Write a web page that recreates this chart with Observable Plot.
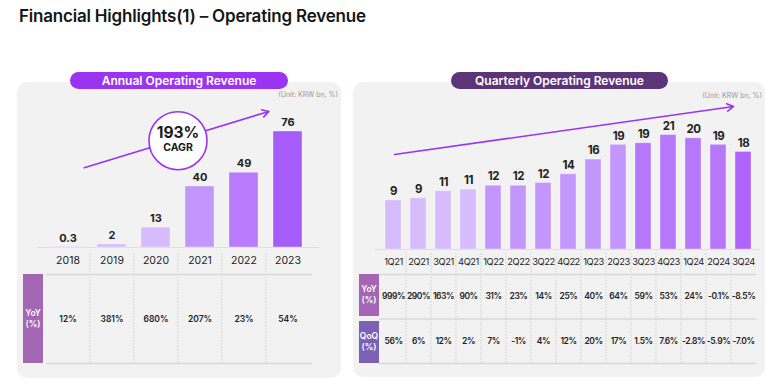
<!DOCTYPE html>
<html><head><meta charset="utf-8">
<script src="https://cdn.jsdelivr.net/npm/d3@7"></script>
<script src="https://cdn.jsdelivr.net/npm/@observablehq/plot@0.6"></script>
<style>
body{margin:0;background:#fff;font-family:Inter,"Noto Sans",sans-serif;}
#page{position:relative;width:773px;height:388px;overflow:hidden;background:#fff;}
#page svg{position:absolute;left:0;top:0;}
#page svg.tight text{letter-spacing:-0.45px;}
.title{position:absolute;left:19px;top:6px;font-size:17px;font-weight:600;color:#151515;letter-spacing:-0.2px;white-space:nowrap;}
.panel{position:absolute;background:#f2f2f2;border-radius:10px;}
.pill{position:absolute;height:17px;border-radius:9px;color:#fff;font-weight:600;font-size:12px;line-height:17px;text-align:center;white-space:nowrap;}
.unit{position:absolute;font-size:7px;color:#9a9a9a;white-space:nowrap;}
.rowhead{position:absolute;color:#fff;font-size:8.5px;font-weight:600;display:flex;align-items:center;justify-content:center;text-align:center;line-height:11px;}
</style></head>
<body>
<div id="page">
  <div class="title">Financial Highlights(1) – Operating Revenue</div>
  <div class="panel" style="left:17px;top:82px;width:324px;height:296px;"></div>
  <div class="panel" style="left:353px;top:82px;width:412px;height:295px;"></div>
  <div class="pill" style="left:70px;top:72px;width:218px;background:#9b33f3;">Annual Operating Revenue</div>
  <div class="pill" style="left:451px;top:72px;width:217px;background:#5c3579;">Quarterly Operating Revenue</div>
  <div class="unit" style="right:435px;top:90px;">(Unit: KRW bn, %)</div>
  <div class="unit" style="right:11px;top:91px;">(Unit: KRW bn, %)</div>
  <div class="rowhead" style="left:23px;top:274px;width:20px;height:89px;background:#a366b3;">YoY<br>(%)</div>
  <div class="rowhead" style="left:359px;top:274px;width:20px;height:42px;background:#a466b4;">YoY<br>(%)</div>
  <div class="rowhead" style="left:359px;top:321px;width:20px;height:42px;background:#7b61b5;">QoQ<br>(%)</div>
</div>
<script>
// ---------- data ----------
const annualYears   = ["2018", "2019", "2020", "2021", "2022", "2023"];
const annualRevenue = [0.3, 2, 13, 40, 49, 76];
const annualLabels  = ["0.3", "2", "13", "40", "49", "76"];
const annualYoY     = ["12%", "381%", "680%", "207%", "23%", "54%"];
const annualCagr    = ["193%", "CAGR"];
const annualTrendY  = [49, 93];      // trend arrow, start / end (KRW bn)

const quarters = ["1Q21","2Q21","3Q21","4Q21","1Q22","2Q22","3Q22","4Q22","1Q23","2Q23","3Q23","4Q23","1Q24","2Q24","3Q24"];
const quarterlyRevenue = [9.0, 9.4, 10.7, 11.0, 11.7, 11.7, 12.2, 13.8, 16.5, 19.2, 19.5, 21.0, 20.4, 19.2, 17.9];
const quarterlyLabels  = ["9","9","11","11","12","12","12","14","16","19","19","21","20","19","18"];
const quarterlyYoY = ["999%","290%","163%","90%","31%","23%","14%","25%","40%","64%","59%","53%","24%","-0.1%","-8.5%"];
const quarterlyQoQ = ["56%","6%","12%","2%","7%","-1%","4%","12%","20%","17%","1.5%","7.6%","-2.8%","-5.9%","-7.0%"];
const quarterlyTrendY = [17.4, 26.5];

// ---------- styles ----------
const W = 773, H = 388;
const FONT = "Inter, 'Noto Sans', sans-serif";
const ACCENT = "#9b33f3";
const annualColors = ["#d6bbfd", "#d6bbfd", "#d6bbfd", "#c396fb", "#b97bfc", "#a65bfb"];
const quarterColors = ["#d6bbfd","#d6bbfd","#d6bbfd","#d6bbfd","#c396fb","#c396fb","#c396fb","#c396fb","#c396fb","#c396fb","#b677fb","#b677fb","#b677fb","#b677fb","#b063fd"];

const annual = annualYears.map((year, i) => ({year, value: annualRevenue[i], label: annualLabels[i], yoy: annualYoY[i]}));
const quarterly = quarters.map((q, i) => ({q, value: quarterlyRevenue[i], label: quarterlyLabels[i], yoy: quarterlyYoY[i], qoq: quarterlyQoQ[i]}));

const aRange = [37, 319], aPad = 0.34;
const aStep = (aRange[1] - aRange[0]) / (annualYears.length + aPad);
const qRange = [375, 760], qPad = 0.36;
const qStep = (qRange[1] - qRange[0]) / (quarters.length + qPad);

const page = document.getElementById("page");
const baseStyle = {background: "transparent", fontFamily: FONT, overflow: "visible"};
function add(svg, tight) { if (tight) svg.classList.add("tight"); page.appendChild(svg); }

// ----- annual bars -----
add(Plot.plot({
  width: W, height: H,
  marginLeft: aRange[0], marginRight: W - aRange[1], marginTop: 94.4, marginBottom: H - 247,
  style: baseStyle,
  x: {type: "band", domain: annualYears, padding: aPad, label: null},
  y: {domain: [0, 100], axis: null},
  color: {domain: annualYears, range: annualColors},
  marks: [
    Plot.ruleY([0], {stroke: "#dedede"}),
    Plot.barY(annual, {x: "year", y: "value", fill: "year", stroke: "#ffffff", strokeOpacity: 0.35}),
    Plot.text(annual, {x: "year", y: "value", text: "label", dy: -9, fontSize: 11, fontWeight: 700, fill: "#222"}),
    Plot.arrow([{from: annualYears[0], to: annualYears[annualYears.length - 1], y1: annualTrendY[0], y2: annualTrendY[1]}],
      {x1: "from", y1: "y1", x2: "to", y2: "y2", stroke: ACCENT, strokeWidth: 1.6, headLength: 7, insetStart: 17, insetEnd: 20}),
    Plot.dot([{x: annualYears[2], y: 70}], {x: "x", y: "y", dx: 22, r: 29, fill: "#fff", stroke: ACCENT, strokeWidth: 1.6}),
    Plot.text([annualCagr[0]], {x: () => annualYears[2], y: () => 70, text: d => d, dx: 22, dy: -8, fontSize: 15.5, fontWeight: 700, fill: "#1a1a1a"}),
    Plot.text([annualCagr[1]], {x: () => annualYears[2], y: () => 70, text: d => d, dx: 22, dy: 7, fontSize: 10.5, fontWeight: 700, fill: "#1a1a1a"}),
    Plot.axisX({tickSize: 0, tickPadding: 9, fontSize: 10.5, color: "#222", label: null})
  ]
}));

// ----- annual table -----
add(Plot.plot({
  width: W, height: H,
  marginLeft: 46, marginRight: W - 312, marginTop: 253, marginBottom: H - 363,
  style: baseStyle,
  x: {type: "band", domain: annualYears, padding: aPad, range: aRange, axis: null},
  y: {domain: [0, 1], range: [274, 363], axis: null},
  marks: [
    Plot.ruleX(annualYears.slice(1), {dx: -aStep / 2, stroke: "#cfcfcf", strokeDasharray: "1.5,1.5"}),
    Plot.ruleY([0, 1], {stroke: "#d8d8d8", strokeWidth: 1.5}),
    Plot.text(annual, {x: "year", y: () => 0.5, text: "yoy", fontSize: 8.5, fontWeight: 600, fill: "#222"})
  ]
}));

// ----- quarterly bars -----
add(Plot.plot({
  width: W, height: H,
  marginLeft: qRange[0], marginRight: W - qRange[1], marginTop: 85.5, marginBottom: H - 249,
  style: baseStyle,
  x: {type: "band", domain: quarters, padding: qPad, label: null},
  y: {domain: [0, 30], axis: null},
  color: {domain: quarters, range: quarterColors},
  marks: [
    Plot.ruleY([0], {stroke: "#dedede"}),
    Plot.barY(quarterly, {x: "q", y: "value", fill: "q", stroke: "#ffffff", strokeOpacity: 0.35}),
    Plot.text(quarterly, {x: "q", y: "value", text: "label", dy: -9, fontSize: 11.5, fontWeight: 700, fill: "#222"}),
    Plot.arrow([{from: quarters[0], to: quarters[quarters.length - 1], y1: quarterlyTrendY[0], y2: quarterlyTrendY[1]}],
      {x1: "from", y1: "y1", x2: "to", y2: "y2", stroke: ACCENT, strokeWidth: 1.6, headLength: 7, insetStart: 1, insetEnd: 10}),
    Plot.axisX({tickSize: 0, tickPadding: 9, fontSize: 9.3, color: "#222", label: null})
  ]
}), true);

// ----- quarterly table -----
add(Plot.plot({
  width: W, height: H,
  marginLeft: 379, marginRight: W - 756, marginTop: 253, marginBottom: H - 363,
  style: baseStyle,
  x: {type: "band", domain: quarters, padding: qPad, range: qRange, axis: null},
  y: {domain: [0, 2], range: [274, 363], axis: null},
  marks: [
    Plot.ruleX(quarters.slice(1), {dx: -qStep / 2, stroke: "#cfcfcf", strokeDasharray: "1.5,1.5"}),
    Plot.ruleY([0, 1, 2], {stroke: "#d8d8d8", strokeWidth: 1.5}),
    Plot.text(quarterly, {x: "q", y: () => 0.5, text: "yoy", fontSize: 8.5, fontWeight: 600, fill: "#222"}),
    Plot.text(quarterly, {x: "q", y: () => 1.5, text: "qoq", fontSize: 8.5, fontWeight: 600, fill: "#222"})
  ]
}), true);
</script>
</body></html>
